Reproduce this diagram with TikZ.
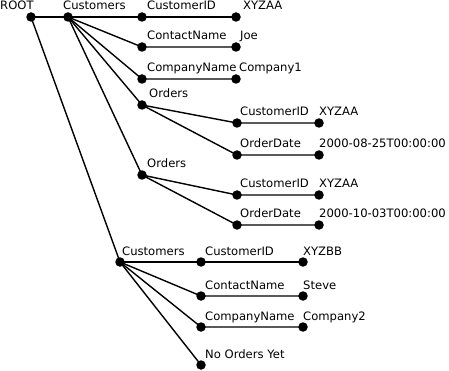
\documentclass[tikz,border=0pt]{standalone}
\usepackage{fontspec}
\setmainfont{DejaVu Sans}
\begin{document}
\begin{tikzpicture}[x=1pt,y=-1pt,
  dot/.style={circle,fill=black,inner sep=0pt,minimum size=9.5pt},
  lbl/.style={anchor=base west,inner sep=0pt,font=\fontsize{11.6pt}{13pt}\selectfont},
  edge/.style={line width=1.4pt}]
\useasboundingbox (0,0) rectangle (449,371);
% dots
\node[dot] (root) at (31,17) {};
\node[dot] (c1) at (68,17) {};
\node[dot] (c1id) at (142,17) {};
\node[dot] (c1idv) at (236,17) {};
\node[dot] (c1cn) at (142,47) {};
\node[dot] (c1cnv) at (236,47) {};
\node[dot] (c1co) at (142,79) {};
\node[dot] (c1cov) at (236,79) {};
\node[dot] (o1) at (142,105) {};
\node[dot] (o1id) at (237,123) {};
\node[dot] (o1idv) at (319,123) {};
\node[dot] (o1dt) at (237,155) {};
\node[dot] (o1dtv) at (319,155) {};
\node[dot] (o2) at (142,175) {};
\node[dot] (o2id) at (237,195) {};
\node[dot] (o2idv) at (319,195) {};
\node[dot] (o2dt) at (237,225) {};
\node[dot] (o2dtv) at (319,225) {};
\node[dot] (c2) at (120,262) {};
\node[dot] (c2id) at (201,262) {};
\node[dot] (c2idv) at (303,262) {};
\node[dot] (c2cn) at (201,296) {};
\node[dot] (c2cnv) at (303,296) {};
\node[dot] (c2co) at (201,327) {};
\node[dot] (c2cov) at (303,327) {};
\node[dot] (c2no) at (201,365) {};
% edges
\draw[edge] (root.center) -- (c1.center);
\draw[edge] (root.center) -- (c2.center);
\draw[edge] (c1.center) -- (c1id.center) -- (c1idv.center);
\draw[edge] (c1.center) -- (c1cn.center) -- (c1cnv.center);
\draw[edge] (c1.center) -- (c1co.center) -- (c1cov.center);
\draw[edge] (c1.center) -- (o1.center);
\draw[edge] (c1.center) -- (o2.center);
\draw[edge] (o1.center) -- (o1id.center) -- (o1idv.center);
\draw[edge] (o1.center) -- (o1dt.center) -- (o1dtv.center);
\draw[edge] (o2.center) -- (o2id.center) -- (o2idv.center);
\draw[edge] (o2.center) -- (o2dt.center) -- (o2dtv.center);
\draw[edge] (c2.center) -- (c2id.center) -- (c2idv.center);
\draw[edge] (c2.center) -- (c2cn.center) -- (c2cnv.center);
\draw[edge] (c2.center) -- (c2co.center) -- (c2cov.center);
\draw[edge] (c2.center) -- (c2no.center);
% labels
\node[lbl] (troot) at (0,10) {ROOT};
\node[lbl] (tc1) at (63,10) {Customers};
\node[lbl] (tc1id) at (147,10) {CustomerID};
\node[lbl] (tc1idv) at (243,10) {XYZAA};
\node[lbl] (tc1cn) at (147,40) {ContactName};
\node[lbl] (tc1cnv) at (240,40) {Joe};
\node[lbl] (tc1co) at (147,72) {CompanyName};
\node[lbl] (tc1cov) at (239,72) {Company1};
\node[lbl] (to1) at (149,98) {Orders};
\node[lbl] (to1id) at (240,116) {CustomerID};
\node[lbl] (to1idv) at (319,116) {XYZAA};
\node[lbl] (to1dt) at (240,148) {OrderDate};
\node[lbl] (to1dtv) at (319,148) {2000-08-25T00:00:00};
\node[lbl] (to2) at (147,168) {Orders};
\node[lbl] (to2id) at (240,188) {CustomerID};
\node[lbl] (to2idv) at (319,188) {XYZAA};
\node[lbl] (to2dt) at (240,218) {OrderDate};
\node[lbl] (to2dtv) at (319,218) {2000-10-03T00:00:00};
\node[lbl] (tc2) at (122,255) {Customers};
\node[lbl] (tc2id) at (205,255) {CustomerID};
\node[lbl] (tc2idv) at (303,255) {XYZBB};
\node[lbl] (tc2cn) at (205,289) {ContactName};
\node[lbl] (tc2cnv) at (303,289) {Steve};
\node[lbl] (tc2co) at (205,320) {CompanyName};
\node[lbl] (tc2cov) at (303,320) {Company2};
\node[lbl] (tc2no) at (205,358) {No Orders Yet};
\end{tikzpicture}
\end{document}
